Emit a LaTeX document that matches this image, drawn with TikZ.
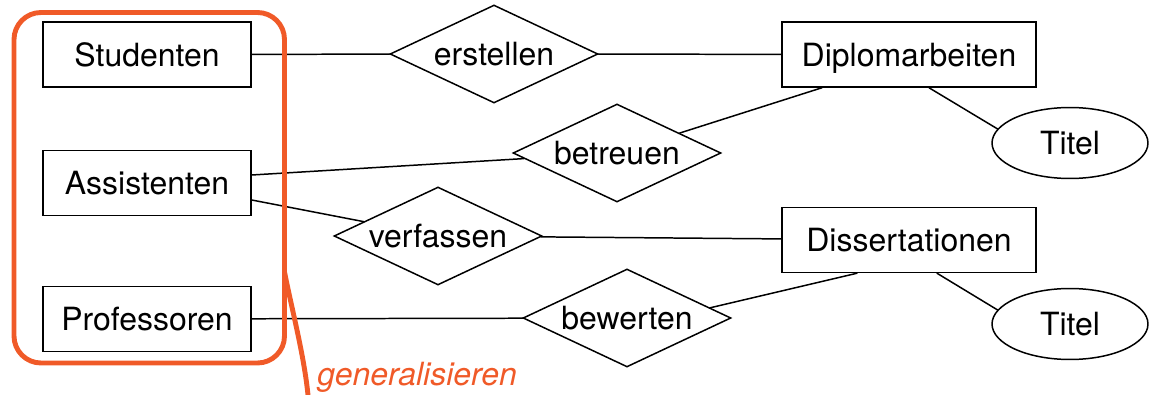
\documentclass[tikz,border=0pt]{standalone}
\usepackage{fontspec}
\setmainfont{TeX Gyre Heros}
\usetikzlibrary{shapes.geometric}
\definecolor{genorange}{RGB}{240,90,40}

\begin{document}
\begin{tikzpicture}[x=0.02cm, y=-0.02cm, line cap=round,
    every node/.style={font=\fontsize{18.2}{22}\selectfont},
    entity/.style={draw, line width=0.85pt, minimum width=4.16cm, minimum height=1.3cm, inner sep=0pt, text depth=0pt},
    relation/.style={draw, diamond, aspect=2.2, line width=0.85pt, minimum width=4.16cm, minimum height=1.96cm, inner sep=0pt, text depth=0pt},
    attribute/.style={draw, ellipse, line width=0.85pt, minimum width=3.12cm, minimum height=1.42cm, inner sep=0pt, text depth=0pt},
    link/.style={line width=0.85pt},
    generalize/.style={draw=genorange, line width=2.8pt}]

  \useasboundingbox (0,0) rectangle (1154,395);

  % the entity types to generalise
  \node[entity] (stud) at (147,54.5) {Studenten};
  \node[entity] (assi) at (147,183) {Assistenten};
  \node[entity] (prof) at (147,319) {Professoren};

  % the works and their attributes
  \node[entity, minimum width=5.08cm] (dipl) at (909,54.5) {Diplomarbeiten};
  \node[entity, minimum width=5.08cm] (diss) at (909,240) {Dissertationen};
  \node[attribute] (titelA) at (1070,143) {Titel};
  \node[attribute] (titelB) at (1070,324) {Titel};

  % the relationships
  \node[relation] (erstellen) at (494,54) {erstellen};
  \node[relation] (betreuen) at (617,153) {betreuen};
  \node[relation] (verfassen) at (438,236) {verfassen};
  \node[relation] (bewerten) at (627,318) {bewerten};

  % connections
  \draw[link] (stud) -- (erstellen);
  \draw[link] (erstellen) -- (dipl);
  \draw[link] ([yshift=0.16cm]assi.east) -- (betreuen);
  \draw[link] (betreuen) -- ([xshift=-1.74cm]dipl.south);
  \draw[link] ([xshift=0.4cm]dipl.south) -- (titelA.169);
  \draw[link] ([yshift=-0.34cm]assi.east) -- (verfassen);
  \draw[link] (verfassen) -- (diss);
  \draw[link] (prof) -- (bewerten);
  \draw[link] (bewerten.7) -- ([xshift=-1.04cm]diss.south);
  \draw[link] ([xshift=0.56cm]diss.south) -- (titelB.169);

  % the generalisation frame with its label
  \draw[generalize, rounded corners=0.54cm] (14,12.5) rectangle (284.5,363);
  \draw[generalize] (284.5,272) .. controls (292,310) and (304,355) .. (308,395);
  \node[anchor=base west, inner sep=0pt, text=genorange] (genlabel) at (317,385)
    {\itshape generalisieren};

\end{tikzpicture}
\end{document}
